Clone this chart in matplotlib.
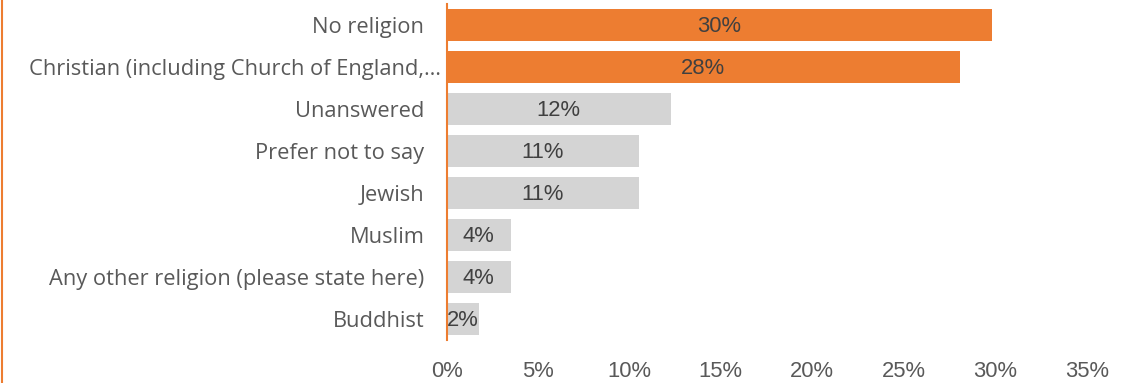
import matplotlib
matplotlib.use("Agg")
import matplotlib.pyplot as plt
from matplotlib.lines import Line2D
from matplotlib.transforms import ScaledTranslation
from matplotlib.ticker import MultipleLocator, FuncFormatter

categories = [
    "No religion",
    "Christian (including Church of England,\u2026",
    "Unanswered",
    "Prefer not to say",
    "Jewish",
    "Muslim",
    "Any other religion (please state here)",
    "Buddhist",
]
shares = [29.8, 28.07, 12.28, 10.53, 10.53, 3.52, 3.52, 1.78]
highlighted = [True, True, False, False, False, False, False, False]

ORANGE = "#ED7D31"
GREY = "#D4D4D4"
TEXT = "#595959"
LABEL = "#404040"
NUM_FONT = ["Liberation Sans", "DejaVu Sans"]

plt.rcParams["font.family"] = ["Open Sans", "DejaVu Sans"]

fig = plt.figure(figsize=(11.33, 3.83), dpi=100)
ax = fig.add_axes([446.5 / 1133, 1 - 340 / 383, (1086.7 - 446.5) / 1133, 336 / 383])

y = list(range(len(categories)))
colors = [ORANGE if h else GREY for h in highlighted]
bars = ax.barh(y, shares, height=0.755, color=colors, zorder=2)

nudge_down = ScaledTranslation(0, -1.5 / 100, fig.dpi_scale_trans)
for b, v in zip(bars, shares):
    ax.text(b.get_width() / 2, b.get_y() + b.get_height() / 2, f"{v:.0f}%",
            ha="center", va="center", fontsize=15.8, color=LABEL,
            family=NUM_FONT, zorder=3, transform=ax.transData + nudge_down)

ax.set_xlim(0, 35)
ax.set_ylim(len(categories) - 0.5, -0.5)
ax.xaxis.set_major_locator(MultipleLocator(5))
ax.xaxis.set_major_formatter(FuncFormatter(lambda v, _: f"{v:.0f}%"))
ax.set_yticks(y)
ax.set_yticklabels(categories)
ax.tick_params(axis="y", length=0, pad=16, labelsize=15.75, labelcolor=TEXT)
ax.tick_params(axis="x", length=0, pad=15, labelsize=15.8, labelcolor=TEXT)
for t in ax.get_xticklabels():
    t.set_family(NUM_FONT)

# the truncated long label runs up closer to the axis
long_label = ax.get_yticklabels()[1]
long_label.set_transform(long_label.get_transform()
                         + ScaledTranslation(17 / 100, 0, fig.dpi_scale_trans))

for side in ("top", "right", "bottom"):
    ax.spines[side].set_visible(False)
ax.spines["left"].set_color(ORANGE)
ax.spines["left"].set_linewidth(1.5)

# accent rule along the left edge of the figure
fig.add_artist(Line2D([2 / 1133, 2 / 1133], [0, 1], color=ORANGE, linewidth=1.5,
                      transform=fig.transFigure))

fig.savefig("out.png", dpi=100)
